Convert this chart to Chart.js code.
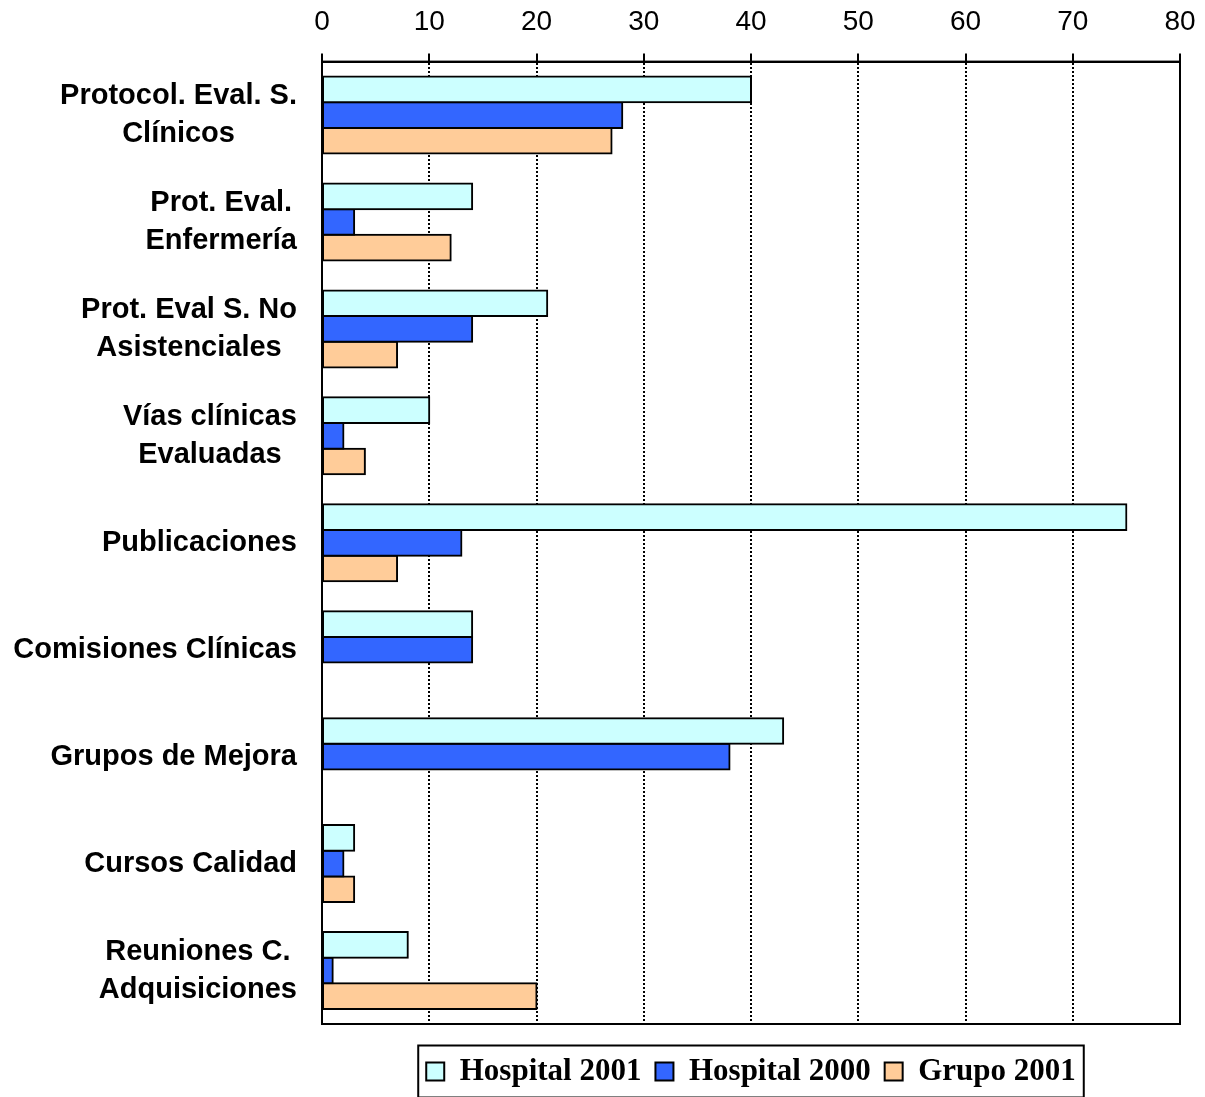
<!DOCTYPE html>
<html lang="es">
<head>
<meta charset="utf-8">
<title>Actividades de calidad</title>
<script src="https://cdn.jsdelivr.net/npm/chart.js@4/dist/chart.umd.min.js"></script>
<style>
  html, body { margin: 0; padding: 0; background: #fff; }
  canvas { display: block; }
</style>
</head>
<body>
<canvas id="chart" width="1205" height="1097"></canvas>
<script>
// Category labels, one entry per line of text
const categories = [
  ['Protocol. Eval. S.', 'Clínicos'],
  ['Prot. Eval.', 'Enfermería'],
  ['Prot. Eval S. No', 'Asistenciales'],
  ['Vías clínicas', 'Evaluadas'],
  ['Publicaciones'],
  ['Comisiones Clínicas'],
  ['Grupos de Mejora'],
  ['Cursos Calidad'],
  ['Reuniones C.', 'Adquisiciones']
];

const hospital2001 = [40, 14, 21, 10, 75, 14, 43, 3, 8];
const hospital2000 = [28, 3, 14, 2, 13, 14, 38, 2, 1];
const grupo2001 = [27, 12, 7, 4, 7, 0, 0, 3, 20];

const seriesNames = ['Hospital 2001', 'Hospital 2000', 'Grupo 2001'];
const seriesColors = ['#CCFFFF', '#3366FF', '#FFCC99'];

const xMin = 0;
const xMax = 80;
const xStep = 10;

const SANS = '"Liberation Sans", Arial, sans-serif';
const SERIF = '"Liberation Serif", "Times New Roman", serif';

// Multi-line category labels: block right-aligned, lines centred inside it
const categoryLabels = {
  id: 'categoryLabels',
  afterDraw(chart) {
    const { ctx, chartArea } = chart;
    const y = chart.scales.y;
    const right = chartArea.left - 25;
    ctx.save();
    ctx.font = 'bold 29px ' + SANS;
    ctx.fillStyle = '#000';
    ctx.textAlign = 'center';
    ctx.textBaseline = 'middle';
    categories.forEach((lines, i) => {
      const yc = y.getPixelForValue(i);
      const w = Math.max(...lines.map(l => ctx.measureText(l).width));
      const cx = right - w / 2;
      lines.forEach((line, j) => {
        ctx.fillText(line, cx, yc + (j - (lines.length - 1) / 2) * 38);
      });
    });
    ctx.restore();
  }
};

// Solid frame round the plot area
const plotFrame = {
  id: 'plotFrame',
  afterDatasetsDraw(chart) {
    const { ctx, chartArea: a } = chart;
    ctx.save();
    ctx.strokeStyle = '#000';
    ctx.lineWidth = 2;
    ctx.strokeRect(a.left, a.top, a.right - a.left, a.bottom - a.top);
    ctx.restore();
  }
};

// Box round the legend items
const legendFrame = {
  id: 'legendFrame',
  afterDraw(chart) {
    const boxes = chart.legend && chart.legend.legendHitBoxes;
    if (!boxes || !boxes.length) return;
    const first = boxes[0];
    const last = boxes[boxes.length - 1];
    const left = first.left - 8;
    const right = last.left + last.width + 8;
    const mid = first.top + first.height / 2;
    const { ctx } = chart;
    ctx.save();
    ctx.strokeStyle = '#000';
    ctx.lineWidth = 2;
    ctx.strokeRect(left, mid - 26, right - left, 52);
    ctx.restore();
  }
};

const datasets = [hospital2001, hospital2000, grupo2001].map((values, i) => ({
  label: seriesNames[i],
  data: values,
  backgroundColor: seriesColors[i],
  borderColor: '#000',
  borderWidth: 2,
  borderSkipped: false,
  inflateAmount: 1,
  categoryPercentage: 0.72,
  barPercentage: 1
}));

new Chart(document.getElementById('chart'), {
  type: 'bar',
  data: {
    labels: categories.map(l => l.join(' ')),
    datasets: datasets
  },
  options: {
    indexAxis: 'y',
    responsive: false,
    animation: false,
    layout: { padding: { top: -10, right: 25, bottom: 0, left: 0 } },
    scales: {
      x: {
        position: 'top',
        min: xMin,
        max: xMax,
        ticks: {
          stepSize: xStep,
          color: '#000',
          padding: 15,
          font: { family: SANS, size: 28 }
        },
        grid: {
          color: '#000',
          lineWidth: 2,
          tickLength: 8,
          tickWidth: 2,
          tickColor: '#000',
          tickBorderDash: []
        },
        border: { display: true, color: '#000', width: 2, dash: [2, 2] },
        afterFit(scale) {
          scale.paddingLeft = 0;
          scale.paddingRight = 0;
        }
      },
      y: {
        ticks: { display: false },
        grid: { display: false },
        border: { display: true, color: '#000', width: 2 },
        afterFit(scale) { scale.width = 322; }
      }
    },
    plugins: {
      tooltip: { enabled: false },
      legend: {
        position: 'bottom',
        fullSize: false,
        // empty title only keeps a gap between plot and legend
        title: {
          display: true,
          text: '',
          font: { size: 10, lineHeight: 1.2 },
          padding: { top: 6, bottom: 0 }
        },
        labels: {
          boxWidth: 18,
          boxHeight: 18,
          padding: 14,
          color: '#000',
          font: { family: SERIF, size: 31, weight: 'bold' }
        }
      }
    }
  },
  plugins: [categoryLabels, plotFrame, legendFrame]
});
</script>
</body>
</html>
